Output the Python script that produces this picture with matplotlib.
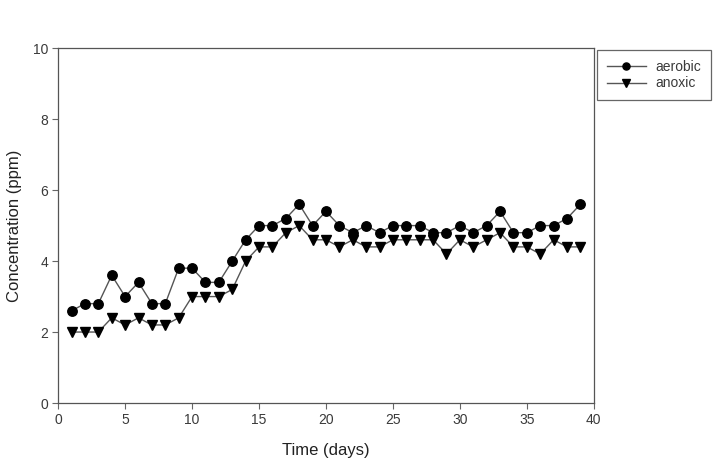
import numpy as np
import matplotlib.pyplot as plt

plt.rcParams['font.family'] = ['Liberation Sans', 'DejaVu Sans']

days = list(range(1, 40))
aerobic = [2.6, 2.8, 2.8, 3.6, 3.0, 3.4, 2.8, 2.8, 3.8, 3.8,
           3.4, 3.4, 4.0, 4.6, 5.0, 5.0, 5.2, 5.6, 5.0, 5.4,
           5.0, 4.8, 5.0, 4.8, 5.0, 5.0, 5.0, 4.8, 4.8, 5.0,
           4.8, 5.0, 5.4, 4.8, 4.8, 5.0, 5.0, 5.2, 5.6]
anoxic = [2.0, 2.0, 2.0, 2.4, 2.2, 2.4, 2.2, 2.2, 2.4, 3.0,
          3.0, 3.0, 3.2, 4.0, 4.4, 4.4, 4.8, 5.0, 4.6, 4.6,
          4.4, 4.6, 4.4, 4.4, 4.6, 4.6, 4.6, 4.6, 4.2, 4.6,
          4.4, 4.6, 4.8, 4.4, 4.4, 4.2, 4.6, 4.4, 4.4]
xticks = [0, 5, 10, 15, 20, 25, 30, 35, 40]
yticks = [0, 2, 4, 6, 8, 10]

fig = plt.figure(figsize=(7.18, 4.59), dpi=100)
ax = fig.add_axes([0.081, 0.122, 0.746, 0.773])

line_c = '#555555'
ax.plot(days, aerobic, color=line_c, lw=1.0, marker='o', ms=6.8,
        mfc='black', mec='black', label='aerobic')
ax.plot(days, anoxic, color=line_c, lw=1.0, marker='v', ms=6.8,
        mfc='black', mec='black', label='anoxic')

ax.set_xlim(0, 40)
ax.set_ylim(0, 10)
ax.set_xticks(xticks)
ax.set_yticks(yticks)
ax.tick_params(direction='out', length=4, width=0.8, colors='#666666',
               labelsize=10, labelcolor='#3a3a3a', pad=3)
for s in ax.spines.values():
    s.set_color('#555555')
    s.set_linewidth(0.9)

ax.set_xlabel('Time (days)', fontsize=12, color='#222222', labelpad=12)
ax.set_ylabel('Concentration (ppm)', fontsize=12, color='#222222', labelpad=8)

leg = ax.legend(loc='upper left', bbox_to_anchor=(1.006, 0.995), fontsize=10,
                fancybox=False, framealpha=1, edgecolor='#666666',
                handlelength=2.8, handletextpad=0.7, borderpad=0.7,
                labelspacing=0.2, markerscale=0.75, borderaxespad=0)
leg.get_frame().set_linewidth(0.9)
for t in leg.get_texts():
    t.set_color('#3a3a3a')

fig.savefig('out.png', dpi=100)
